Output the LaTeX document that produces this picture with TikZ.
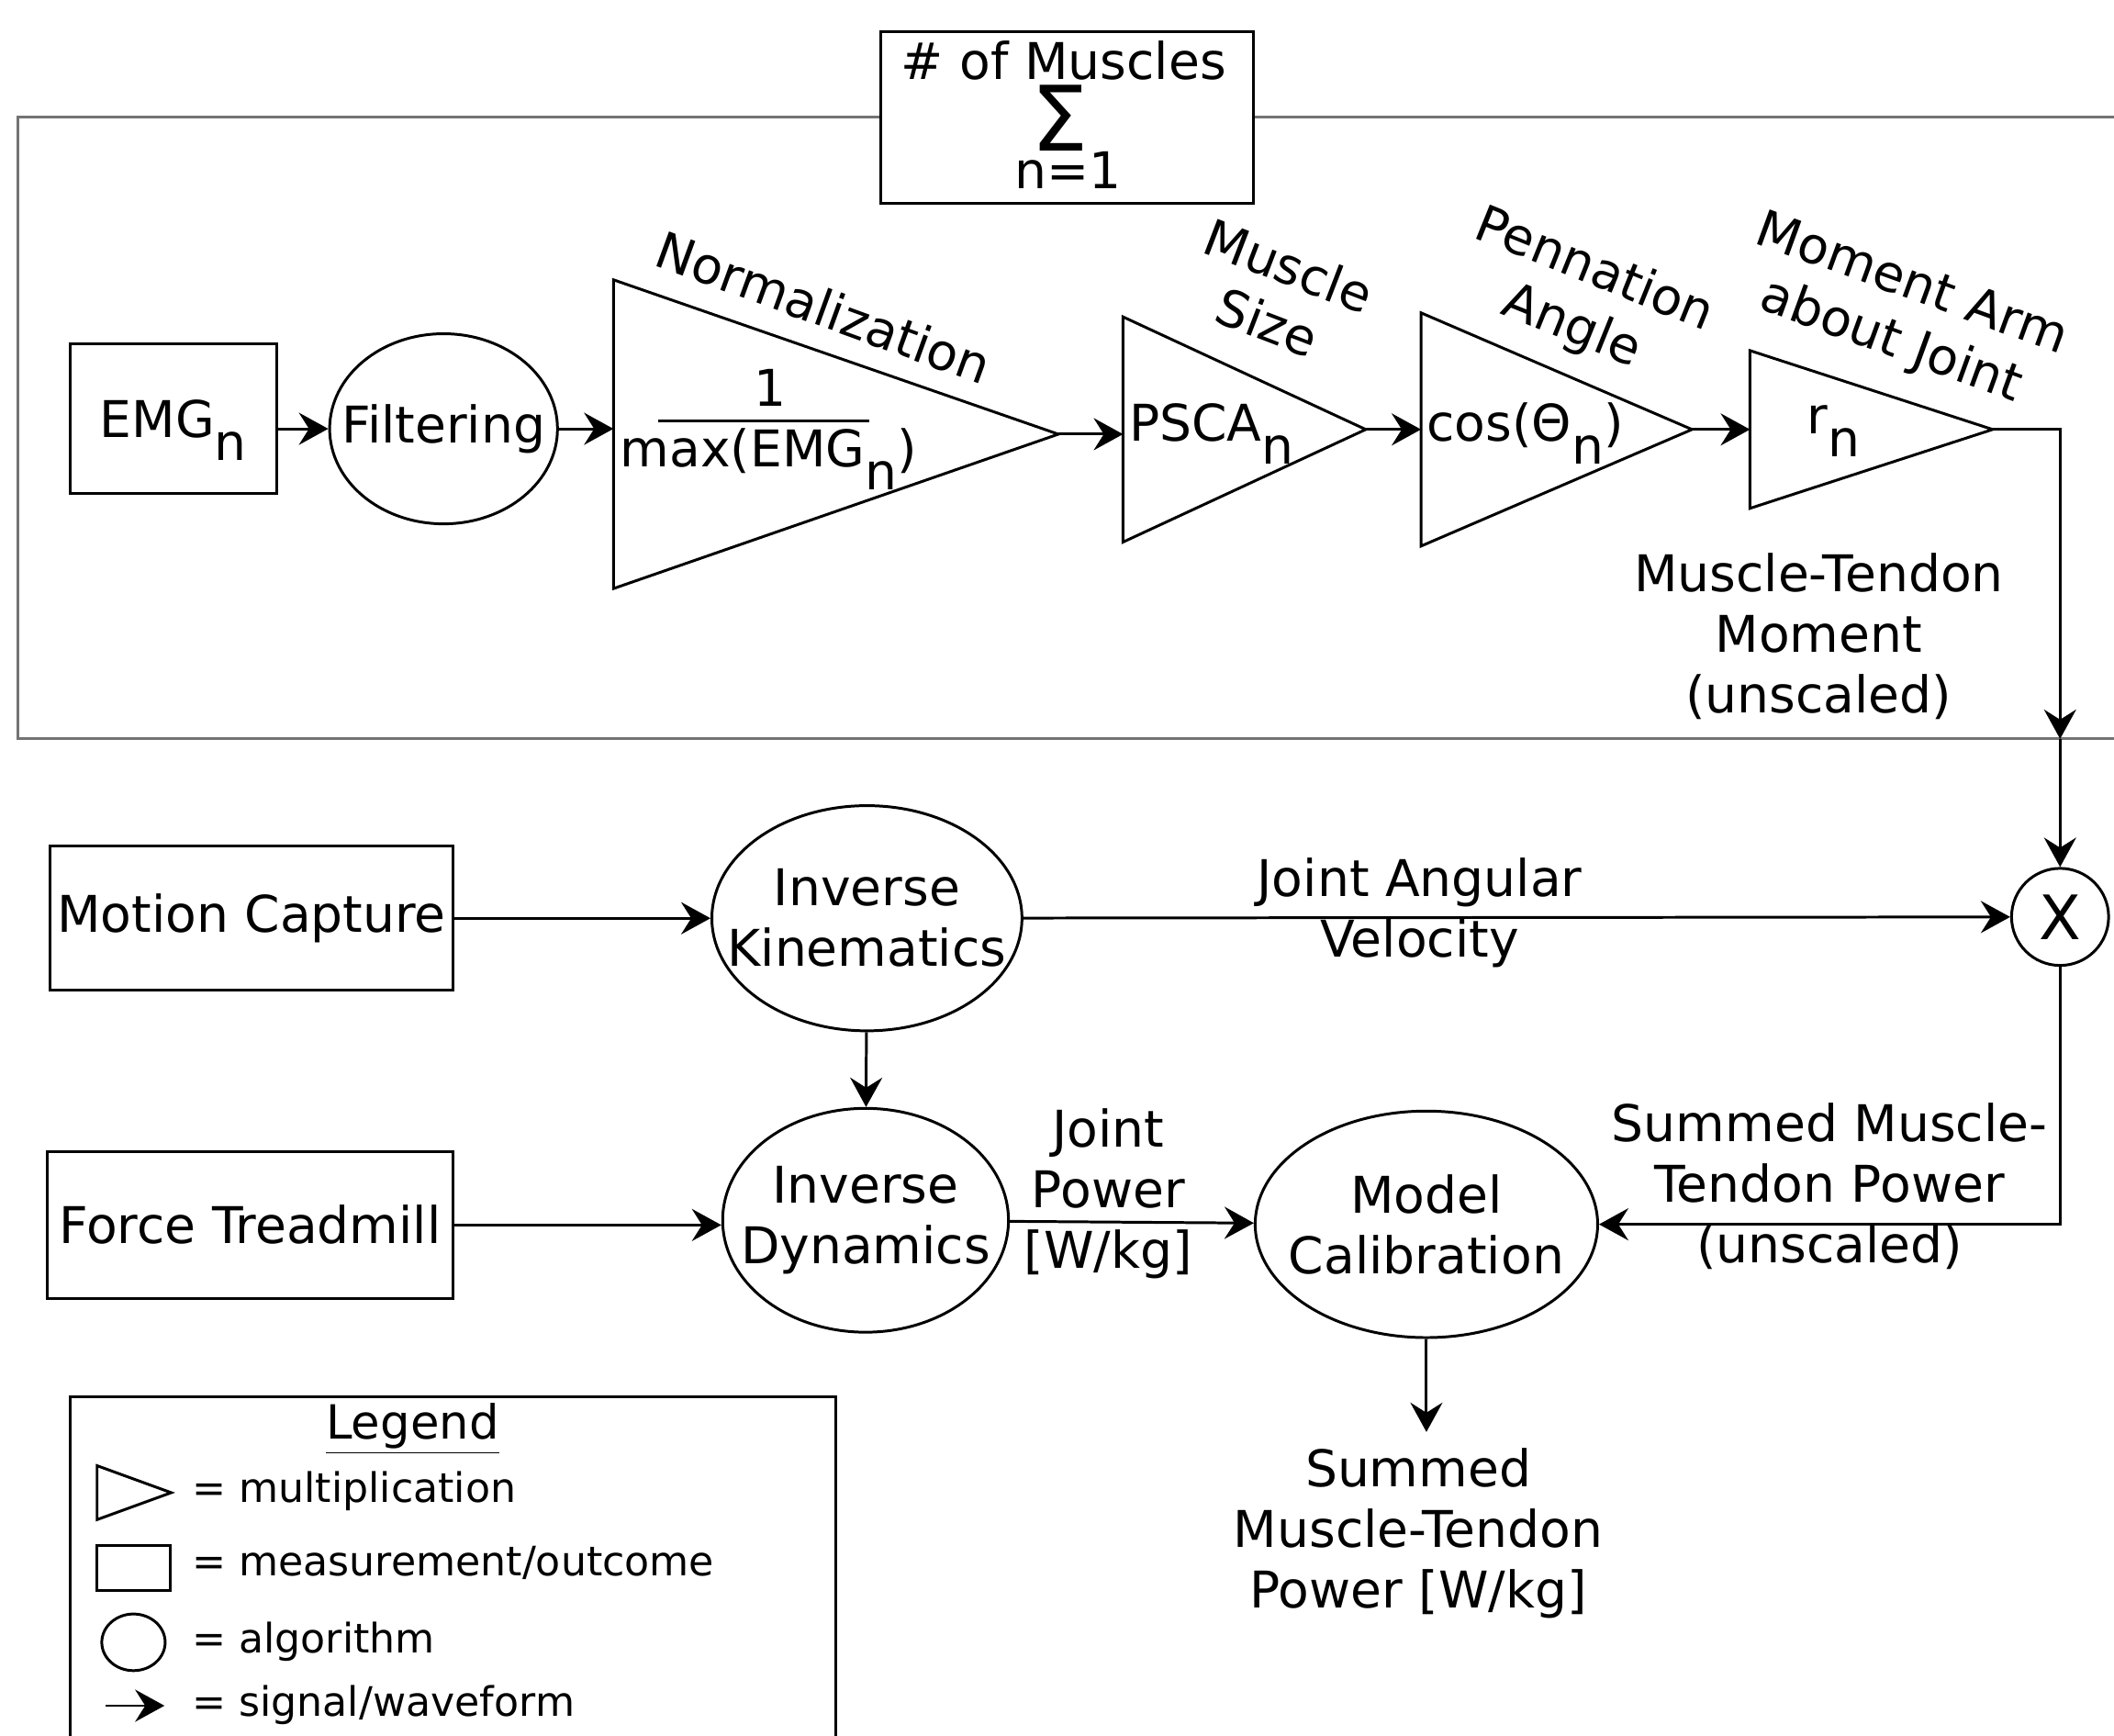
\documentclass[tikz,border=0pt]{standalone}
\usepackage{fontspec}
\setmainfont{DejaVu Sans}
\usetikzlibrary{shapes.geometric,arrows.meta,positioning,calc}
\newdimen\pxu \pxu=0.147mm
\newcommand{\subn}{\raisebox{-0.45em}{n}}
\newcommand{\bodysz}{\fontsize{15.7}{18.8}\selectfont}
\newcommand{\legsz}{\fontsize{12.6}{15}\selectfont}

\begin{document}
\begin{tikzpicture}[x=0.147mm, y=-0.147mm, font=\bodysz,
  box/.style={draw, line width=0.85pt, inner sep=0pt},
  algo/.style={draw, ellipse, line width=0.85pt, inner sep=0pt},
  mult/.style={draw, isosceles triangle, isosceles triangle stretches, line width=0.85pt, inner sep=0pt, outer sep=0pt, anchor=lower side},
  txt/.style={inner sep=0pt, align=center},
  sig/.style={-{Stealth[length=3.2mm, width=3.5mm, inset=1.1mm]}, line width=0.85pt}]
\useasboundingbox (0,0) rectangle (1568,1287);

% per-muscle frame and sum box
\draw[line width=0.85pt, color=black!55] (1568,87) -- (13,87) -- (13,548) -- (1568,548);
\node[box, fill=white, minimum width=276\pxu, minimum height=127\pxu] (sigbox) at (791.5,87) {};
\node[txt, anchor=base] (nmus) at (789,59) {\# of Muscles};
\node[txt, anchor=base, font=\fontsize{28}{28}\selectfont] (sigma) at (786,112) {Σ};
\node[txt, anchor=base] (nlow) at (792,140) {n=1};

% EMG chain
\node[box, minimum width=153\pxu, minimum height=111\pxu, text depth=0pt] (emg) at (128.5,310.5) {EMG\subn};
\node[algo, minimum width=169\pxu, minimum height=141\pxu] (filt) at (329,318) {};
\node[txt] (filttxt) at (filt) {Filtering};
\foreach \nm/\bx/\cy/\trw/\trh in {norm/455/322/330/229, psca/833/318.5/180/167, cosn/1054/318.5/201/173, rn/1298/318.5/180/117}
  \node[mult, minimum width=\trh\pxu, minimum height=\trw\pxu] (\nm) at (\bx,\cy) {};
\node[txt, anchor=base] (normnum) at (571,301) {1};
\draw[line width=0.85pt] (488,312) -- (645,312);
\node[txt, anchor=base] (normden) at (570,346) {max(EMG\subn)};
\node[txt, anchor=base west] (pscatxt) at (837,327) {PSCA\subn};
\node[txt, anchor=base west] (costxt) at (1058,327) {cos(Θ\subn)};
\node[txt, anchor=base west] (rtxt) at (1340,322) {r\subn};
\node[txt, rotate=-20] (normlbl) at (611,228) {Normalization};
\node[txt, rotate=-21] (psclbl) at (948,218) {Muscle\\Size};
\node[txt, rotate=-22] (coslbl) at (1174,222) {Pennation\\Angle};
\node[txt, rotate=-20] (rlbl) at (1410,233) {Moment Arm\\about Joint};
\node[txt] (mtmom) at (1349,472) {Muscle-Tendon\\Moment\\(unscaled)};

\draw[sig] (emg.east |- filt.west) -- (filt.west);
\foreach \a/\b in {filt/norm, norm/psca, psca/cosn, cosn/rn}
  \draw[sig] (\a.east) -- (\a.east -| \b.west);

% joint level
\node[draw, circle, line width=0.85pt, minimum size=72\pxu, inner sep=0pt, font=\fontsize{19}{19}\selectfont] (xmul) at (1528,680) {X};
\coordinate (frameout) at (1528,548);
\draw[sig] (rn.apex) -| (frameout);
\draw[sig] (frameout) -- (xmul.north);

\node[box, minimum width=299\pxu, minimum height=107\pxu] (mocap) at (186.5,681) {Motion Capture};
\node[box, minimum width=301\pxu, minimum height=109\pxu] (treadmill) at (185.5,908.5) {Force Treadmill};
\node[algo, minimum width=230\pxu, minimum height=167\pxu] (ik) at (643,681) {};
\node[txt] (iktxt) at (ik) {Inverse\\Kinematics};
\node[algo, minimum width=212\pxu, minimum height=166\pxu] (id) at (642,905) {};
\node[txt] (idtxt) at (id) {Inverse\\Dynamics};
\node[algo, minimum width=254\pxu, minimum height=168\pxu] (mcal) at (1058,908) {};
\node[txt] (mcaltxt) at (mcal) {Model\\Calibration};

\draw[sig] (mocap) -- (ik);
\draw[sig] (ik) -- (xmul);
\node[txt] (angvel) at (1053,677) {Joint Angular\\Velocity};
\draw[sig] (ik) -- (id);
\draw[sig] (treadmill.east) -- (treadmill.east -| id.west);
\draw[sig] (id) -- (mcal);
\node[txt] (jpow) at (822,885) {Joint\\Power\\{[W/kg]}};
\draw[sig] (xmul) |- (mcal.east);
\node[txt] (sumpow) at (1357,880) {Summed Muscle-\\Tendon Power\\(unscaled)};
\coordinate (mcout) at (1058,1062);
\draw[sig] (mcal.south) -- (mcout);
\node[txt] (result) at (1052,1137) {Summed\\Muscle-Tendon\\Power [W/kg]};

% legend
\draw[line width=0.85pt] (52,1300) -- (52,1036) -- (620,1036) -- (620,1300);
\node[txt, anchor=base, font=\fontsize{14.6}{16}\selectfont] (legtitle) at (306,1067) {\underline{Legend}};
\node[mult, minimum width=40\pxu, minimum height=55\pxu] (lmulticon) at (72,1107) {};
\node[box, minimum width=54\pxu, minimum height=33\pxu] (lmeasicon) at (99,1163) {};
\node[algo, minimum width=47\pxu, minimum height=42\pxu] (lalgicon) at (99,1218) {};
\coordinate (lsigA) at (78,1265);
\coordinate (lsigB) at (122,1265);
\draw[sig] (lsigA) -- (lsigB);
\foreach \nm/\yb/\tx in {lmult/1114/{= multiplication}, lmeas/1169/{= measurement/outcome}, lalg/1226/{= algorithm}, lsig/1273/{= signal/waveform}}
  \node[txt, anchor=base west, font=\legsz] (\nm) at (142,\yb) {\tx};
\end{tikzpicture}
\end{document}
